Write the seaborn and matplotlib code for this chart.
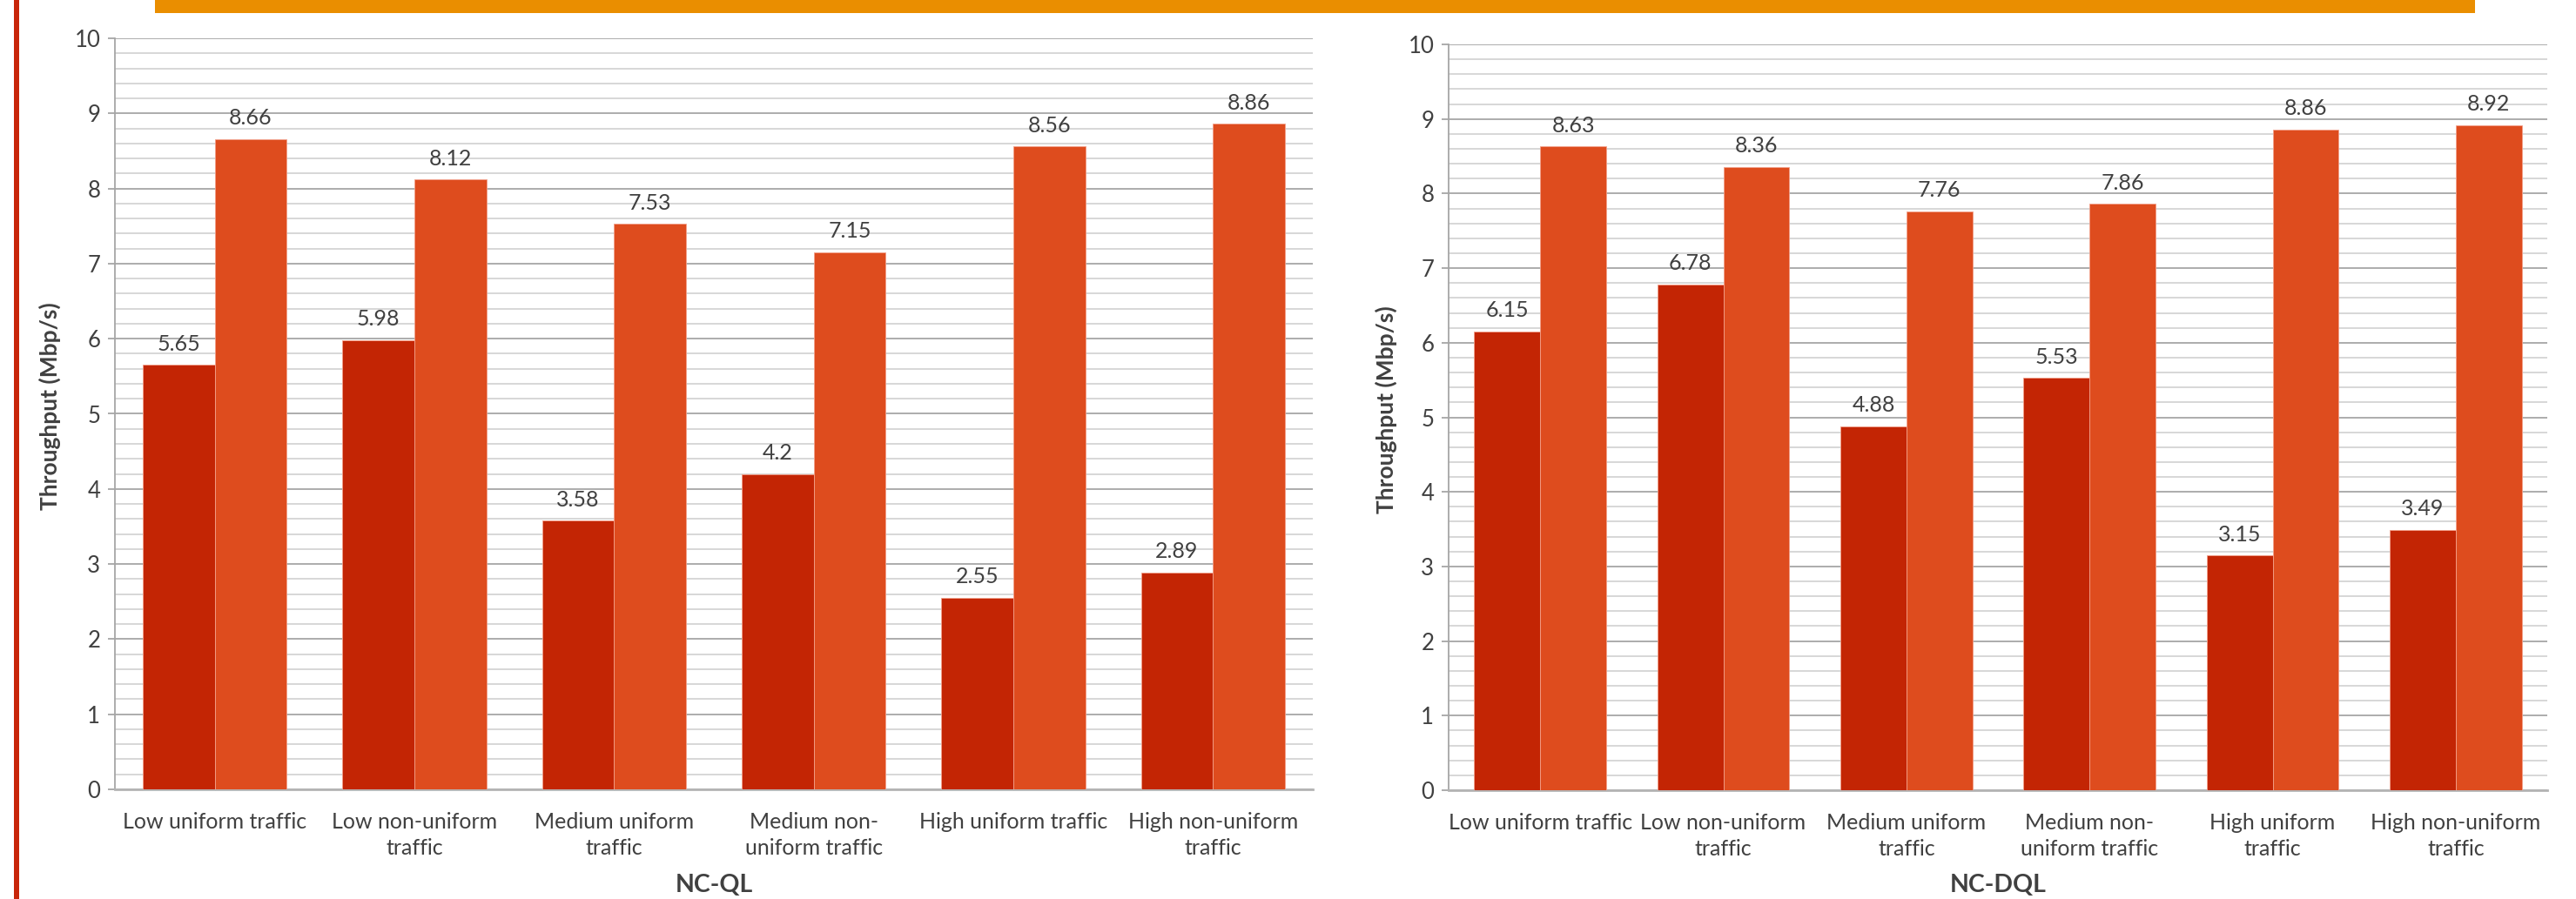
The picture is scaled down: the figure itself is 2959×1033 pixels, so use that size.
import matplotlib
matplotlib.use("Agg")
import matplotlib.pyplot as plt
from matplotlib.patches import Rectangle
from matplotlib.ticker import MultipleLocator
import seaborn as sns
import pandas as pd

# Traffic scenarios (tick labels, wrapped as shown under each group)
conditions_ql = ["Low uniform traffic", "Low non-uniform\ntraffic", "Medium uniform\ntraffic",
                 "Medium non-\nuniform traffic", "High uniform traffic", "High non-uniform\ntraffic"]
conditions_dql = ["Low uniform traffic", "Low non-uniform\ntraffic", "Medium uniform\ntraffic",
                  "Medium non-\nuniform traffic", "High uniform\ntraffic", "High non-uniform\ntraffic"]

# Throughput (Mbp/s) for the two schemes in each panel
ql_first = [5.65, 5.98, 3.58, 4.2, 2.55, 2.89]
ql_second = [8.66, 8.12, 7.53, 7.15, 8.56, 8.86]
dql_first = [6.15, 6.78, 4.88, 5.53, 3.15, 3.49]
dql_second = [8.63, 8.36, 7.76, 7.86, 8.86, 8.92]

series_names = ["Scheme A", "Scheme B"]
bar_colors = ["#C32504", "#DE4C1E"]
text_color = "#404040"

sns.set_theme(style="white")
plt.rcParams["font.family"] = ["Lato", "DejaVu Sans"]

W, H = 2959, 1033
fig = plt.figure(figsize=(W / 100, H / 100), dpi=100)


def frame(conds, first, second):
    return pd.DataFrame({
        "condition": conds * 2,
        "throughput": first + second,
        "scheme": [series_names[0]] * len(conds) + [series_names[1]] * len(conds),
    })


def draw_panel(rect, conds, first, second, xlabel, ylab_x):
    ax = fig.add_axes(rect)
    df = frame(conds, first, second)
    sns.barplot(data=df, x="condition", y="throughput", hue="scheme",
                palette=bar_colors, saturation=1, width=0.72, gap=0,
                edgecolor="#F2A08A", linewidth=0.6, legend=False, ax=ax, zorder=3)
    for cont, vals in zip(ax.containers, [first, second]):
        ax.bar_label(cont, labels=[f"{v:g}" for v in vals], padding=9,
                     fontsize=18, color=text_color)
    ax.set_ylim(0, 10)
    ax.set_xlim(-0.5, len(conds) - 0.5)
    ax.yaxis.set_major_locator(MultipleLocator(1))
    ax.yaxis.set_minor_locator(MultipleLocator(0.2))
    ax.grid(which="major", axis="y", color="#A6A6A6", linewidth=1.3, zorder=0)
    ax.grid(which="minor", axis="y", color="#D4D4D4", linewidth=1.3, zorder=0)
    ax.set_axisbelow(True)
    for s in ["top", "right"]:
        ax.spines[s].set_visible(False)
    ax.spines["left"].set_color("#A6A6A6")
    ax.spines["left"].set_linewidth(1.3)
    ax.spines["bottom"].set_color("#B4B4B4")
    ax.spines["bottom"].set_linewidth(2)
    ax.tick_params(axis="y", which="major", left=True, length=6, width=1.3,
                   color="#A6A6A6", labelsize=18.5, labelcolor=text_color, pad=6)
    ax.tick_params(axis="y", which="minor", left=False, length=0)
    ax.tick_params(axis="x", length=0, labelsize=18, labelcolor=text_color, pad=19)
    for lab in ax.get_xticklabels():
        lab.set_multialignment("center")
        lab.set_linespacing(1.35)
    ax.set_xlabel(xlabel, fontsize=20.5, fontweight="bold", color=text_color)
    ax.xaxis.label.set_va("center")
    ax.xaxis.set_label_coords(0.5, -0.1275)
    ax.set_ylabel("Throughput (Mbp/s)", fontsize=19, fontweight="bold", color=text_color)
    ax.yaxis.label.set_va("center")
    ax.yaxis.set_label_coords(ylab_x, 0.51)
    return ax


draw_panel([132 / W, 1 - 907 / H, 1376 / W, 863 / H],
           conditions_ql, ql_first, ql_second, "NC-QL", -0.0545)
draw_panel([1664 / W, 1 - 908 / H, 1262 / W, 857 / H],
           conditions_dql, dql_first, dql_second, "NC-DQL", -0.0571)

# Decorative page accents: orange header band and red left rule
fig.patches.append(Rectangle((178 / W, 1 - 15 / H), (2843 - 178) / W, 15 / H,
                             transform=fig.transFigure, facecolor="#EA8E00",
                             edgecolor="none", zorder=5))
fig.patches.append(Rectangle((16 / W, 0), 6 / W, 1,
                             transform=fig.transFigure, facecolor="#C8260A",
                             edgecolor="none", zorder=5))

fig.savefig("out.png", dpi=100, facecolor="white")
